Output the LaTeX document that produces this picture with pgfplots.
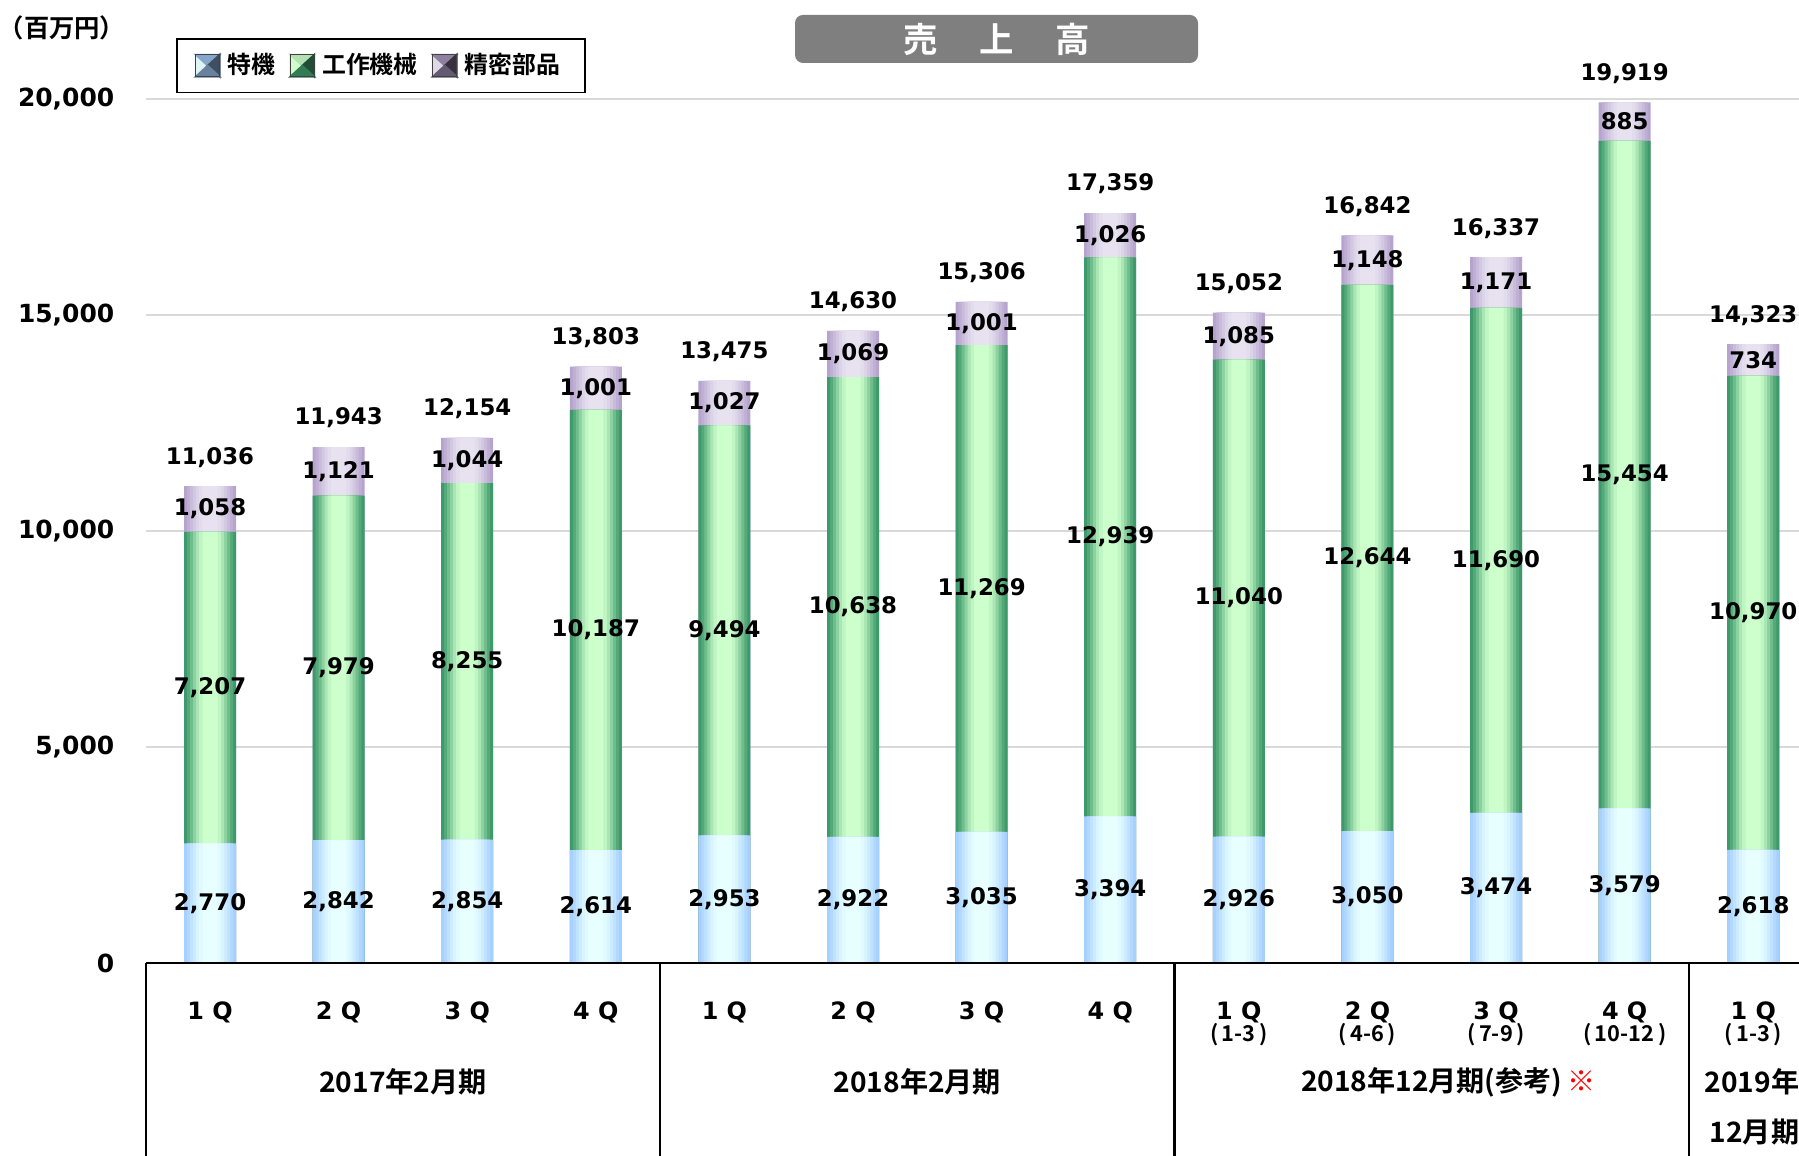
\documentclass[border=0pt]{standalone}
\usepackage{pgfplots}
\pgfplotsset{compat=1.18}
\usepackage{pgfplotstable}
\usepackage{fontspec}
\setmainfont{DejaVu Sans}
\newfontfamily\dv{DejaVu Sans}
\newfontfamily\jp{Noto Sans CJK JP}[BoldFont={Noto Sans CJK JP Bold}]

\definecolor{bE}{HTML}{A6D0FF}
\definecolor{bM}{HTML}{E8FFFF}
\definecolor{gE}{HTML}{3E9A6A}
\definecolor{gM}{HTML}{CCFFCC}
\definecolor{pE}{HTML}{B6A4CE}
\definecolor{pM}{HTML}{E8E2F0}
\definecolor{gridc}{HTML}{D9D9D9}
\definecolor{titlec}{HTML}{7F7F7F}

\newcommand\numfont{\dv\bfseries\fontsize{6.5}{7.5}\selectfont}
\newcommand\jpb{\jp\bfseries}
\newcommand\subl[1]{{\jp\bfseries\fontsize{6.2}{7}\selectfont #1}}

% bevelled legend square: left, top, right, bottom colours
\newcommand\bev[4]{%
  \fill[#1] (0cm,-0.11cm) -- (0cm,0.11cm) -- (0.12cm,0cm) -- cycle;
  \fill[#2] (0cm,0.11cm) -- (0.24cm,0.11cm) -- (0.12cm,0cm) -- cycle;
  \fill[#3] (0.24cm,0.11cm) -- (0.24cm,-0.11cm) -- (0.12cm,0cm) -- cycle;
  \fill[#4] (0.24cm,-0.11cm) -- (0cm,-0.11cm) -- (0.12cm,0cm) -- cycle;
  \draw[black!75, line width=0.3pt] (0cm,-0.11cm) rectangle (0.24cm,0.11cm);}

\pgfplotstableread{
x a b c t
0 2770 7207 1058 11036
1 2842 7979 1121 11943
2 2854 8255 1044 12154
3 2614 10187 1001 13803
4 2953 9494 1027 13475
5 2922 10638 1069 14630
6 3035 11269 1001 15306
7 3394 12939 1026 17359
8 2926 11040 1085 15052
9 3050 12644 1148 16842
10 3474 11690 1171 16337
11 3579 15454 885 19919
12 2618 10970 734 14323
}\salesdata

\pgfplotsset{
  sb/.style 2 args={ybar, bar shift=0pt, bar width=#1, draw=none, fill=#2, forget plot},
  lab/.style={draw=none, mark=none, forget plot, point meta=explicit,
    nodes near coords={\pgfmathprintnumber[fixed,precision=0,1000 sep={,},assume math mode=true]{\pgfplotspointmeta}},
    every node near coord/.append style={font=\numfont, anchor=center, inner sep=0pt}},
}

\begin{document}
\begin{tikzpicture}
\useasboundingbox (0,0) rectangle (17.99,11.56);
\clip (0,0) rectangle (17.99,11.56);

\begin{axis}[at={(1.46cm,1.93cm)}, anchor=south west, scale only axis,
  width=16.53cm, height=8.64cm, xmin=-0.4977, xmax=12.356, ymin=0, ymax=20000, clip=false,
  axis line style={draw=none},
  major tick length=0pt,
  ytick={0,5000,10000,15000,20000}, scaled y ticks=false,
  ymajorgrids, grid style={draw=gridc, line width=0.6pt},
  yticklabel style={font=\dv\bfseries\fontsize{7.1}{8}\selectfont, anchor=east, inner sep=0pt, xshift=-0.31cm,
    /pgf/number format/.cd, fixed, precision=0, 1000 sep={,}, assume math mode=true},
  xtick={0,...,12},
  xticklabels={1 Q,2 Q,3 Q,4 Q,1 Q,2 Q,3 Q,4 Q,
    {1 Q\\[-1.6pt]\subl{(\,1-3\,)}},{2 Q\\[-1.6pt]\subl{(\,4-6\,)}},{3 Q\\[-1.6pt]\subl{(\,7-9\,)}},
    {4 Q\\[-1.6pt]\subl{(\,10-12\,)}},{1 Q\\[-1.6pt]\subl{(\,1-3\,)}}},
  xticklabel style={font=\dv\bfseries\fontsize{6.8}{8}\selectfont, align=center, anchor=north, inner sep=0pt, yshift=-0.38cm},
  legend style={at={(0.0181,1.0706)}, anchor=north west, draw=black, line width=0.5pt,
    legend columns=3, font=\jpb\fontsize{6.8}{8}\selectfont, inner xsep=0.18cm, inner ysep=0.07cm,
    /tikz/every even column/.append style={column sep=0.07cm}},
  legend cell align=left,
]
% 精密部品: bar up to the total (lower part covered by the others); nested bars give the shading
\addplot[sb={0.52cm}{pE}]        table[x=x, y=t]{\salesdata};
\addplot[sb={0.46cm}{pM!18!pE}]  table[x=x, y=t]{\salesdata};
\addplot[sb={0.40cm}{pM!38!pE}]  table[x=x, y=t]{\salesdata};
\addplot[sb={0.34cm}{pM!58!pE}]  table[x=x, y=t]{\salesdata};
\addplot[sb={0.28cm}{pM!76!pE}]  table[x=x, y=t]{\salesdata};
\addplot[sb={0.22cm}{pM!90!pE}]  table[x=x, y=t]{\salesdata};
\addplot[sb={0.15cm}{pM}]        table[x=x, y=t]{\salesdata};
% 工作機械
\addplot[sb={0.52cm}{gE}]        table[x=x, y expr=\thisrow{a}+\thisrow{b}]{\salesdata};
\addplot[sb={0.46cm}{gM!15!gE}]  table[x=x, y expr=\thisrow{a}+\thisrow{b}]{\salesdata};
\addplot[sb={0.40cm}{gM!35!gE}]  table[x=x, y expr=\thisrow{a}+\thisrow{b}]{\salesdata};
\addplot[sb={0.34cm}{gM!55!gE}]  table[x=x, y expr=\thisrow{a}+\thisrow{b}]{\salesdata};
\addplot[sb={0.28cm}{gM!75!gE}]  table[x=x, y expr=\thisrow{a}+\thisrow{b}]{\salesdata};
\addplot[sb={0.22cm}{gM!90!gE}]  table[x=x, y expr=\thisrow{a}+\thisrow{b}]{\salesdata};
\addplot[sb={0.15cm}{gM}]        table[x=x, y expr=\thisrow{a}+\thisrow{b}]{\salesdata};
% 特機
\addplot[sb={0.52cm}{bE}]        table[x=x, y=a]{\salesdata};
\addplot[sb={0.46cm}{bM!18!bE}]  table[x=x, y=a]{\salesdata};
\addplot[sb={0.40cm}{bM!38!bE}]  table[x=x, y=a]{\salesdata};
\addplot[sb={0.34cm}{bM!58!bE}]  table[x=x, y=a]{\salesdata};
\addplot[sb={0.28cm}{bM!76!bE}]  table[x=x, y=a]{\salesdata};
\addplot[sb={0.22cm}{bM!90!bE}]  table[x=x, y=a]{\salesdata};
\addplot[sb={0.15cm}{bM}]        table[x=x, y=a]{\salesdata};

\addlegendimage{legend image code/.code={\bev{black!4!bM}{black!20!bE}{black!62!bE}{black!38!bE}}}
\addlegendentry{特機}
\addlegendimage{legend image code/.code={\bev{gM}{black!12!gM}{black!50!gE}{black!20!gE}}}
\addlegendentry{工作機械}
\addlegendimage{legend image code/.code={\bev{black!4!pM}{black!22!pE}{black!70!pE}{black!45!pE}}}
\addlegendentry{精密部品}

% value labels
\addplot[lab] table[x=x, y expr=\thisrow{a}/2, meta=a]{\salesdata};
\addplot[lab] table[x=x, y expr=\thisrow{a}+\thisrow{b}/2, meta=b]{\salesdata};
\addplot[lab] table[x=x, y expr=\thisrow{a}+\thisrow{b}+\thisrow{c}/2, meta=c]{\salesdata};
\addplot[lab, every node near coord/.append style={yshift=0.29cm}] table[x=x, y=t, meta=t]{\salesdata};

\draw[black, line width=0.7pt] (axis cs:-0.4977,0) -- (axis cs:12.356,0);
\draw[black, line width=0.6pt] (axis cs:-0.4977,0) -- ([yshift=-2.2cm]axis cs:-0.4977,0);
\draw[black, line width=0.6pt] (axis cs:3.5,0) -- ([yshift=-2.2cm]axis cs:3.5,0);
\draw[black, line width=0.6pt] (axis cs:7.5,0) -- ([yshift=-2.2cm]axis cs:7.5,0);
\draw[black, line width=0.6pt] (axis cs:11.5,0) -- ([yshift=-2.2cm]axis cs:11.5,0);
\node[font=\jpb\fontsize{8}{9}\selectfont] at ([yshift=-1.19cm]axis cs:1.5,0) {2017年2月期};
\node[font=\jpb\fontsize{8}{9}\selectfont] at ([yshift=-1.19cm]axis cs:5.5,0) {2018年2月期};
\node[font=\jpb\fontsize{8}{9}\selectfont] at ([yshift=-1.19cm]axis cs:9.5,0)
  {2018年12月期(参考)\rlap{\hspace{0.05cm}\textcolor{red}{※}}};
\end{axis}

\node[font=\jpb\fontsize{8}{9}\selectfont, anchor=west, inner sep=0pt] at (17.04,0.74) {2019年};
\node[font=\jpb\fontsize{8}{9}\selectfont, anchor=west, inner sep=0pt] at (17.09,0.24) {12月期};

\node[fill=titlec, rounded corners=0.08cm, minimum width=4.03cm, minimum height=0.48cm,
  text=white, font=\jpb\fontsize{9.8}{11}\selectfont, inner sep=0pt] at (9.965,11.17)
  {売\hspace{1.2em}上\hspace{1.2em}高};
\node[font=\jpb\fontsize{7.2}{8}\selectfont, inner sep=0pt] at (0.62,11.28) {（百万円）};
\end{tikzpicture}
\end{document}
